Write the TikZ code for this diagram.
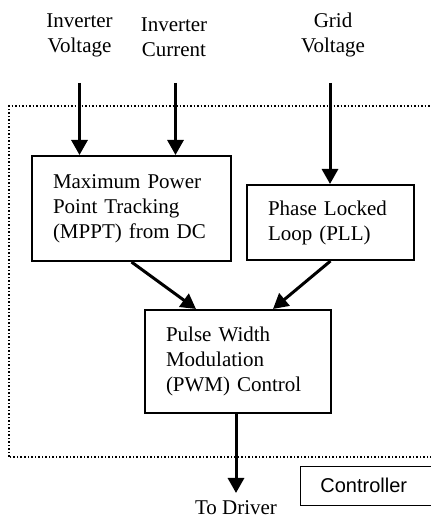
\documentclass[tikz,border=0pt]{standalone}
\usepackage{fontspec}
\setmainfont{Liberation Serif}
\newfontfamily\ctrlfont{Liberation Sans}
\usetikzlibrary{arrows.meta,positioning,calc}

\begin{document}
\begin{tikzpicture}[
    x=1pt, y=1pt,
    font=\fontsize{21}{25}\selectfont,
    block/.style={rectangle, draw, line width=2pt, inner xsep=21pt, inner ysep=0pt, align=left},
    lbl/.style={align=center, inner sep=2pt},
    arrow/.style={-{Triangle[length=15pt, width=16pt]}, line width=3pt},
    region/.style={draw, dotted, line width=1.5pt},
  ]
    \useasboundingbox (0,0) rectangle (430,518);

    % Controller region
    \draw[region] (9,61) rectangle (445,412);
    \node[draw, line width=0.8pt, anchor=west, align=left, text width=110pt, inner xsep=20pt,
          minimum height=39pt, font=\ctrlfont\fontsize{20}{24}\selectfont] (ctrl) at (300,32.5) {Controller};

    % Inputs
    \node[lbl] (vin) at (79.5,483) {Inverter\\Voltage};
    \node[lbl] (icur) at (174,481) {Inverter\\Current};
    \node[lbl] (gvol) at (333,483) {Grid\\Voltage};

    % Blocks
    \node[block, text width=157pt, minimum height=105pt] (mppt) at (131.5,309.5)
        {Maximum Power\\Point Tracking\\(MPPT) from DC};
    \node[block, text width=125pt, minimum height=75pt] (pll) at (330.5,295.5)
        {Phase Locked\\Loop (PLL)};
    \node[block, text width=144pt, minimum height=103pt] (pwm) at (238,156.5)
        {Pulse Width\\Modulation\\(PWM) Control};

    % Output
    \node[lbl, anchor=north, inner ysep=7pt] (drv) at (236,25) {To Driver};

    % Arrows
    \coordinate (vtop) at (79.5,435);
    \coordinate (ctop) at (175.5,435);
    \coordinate (gtop) at (330,435);
    \draw[arrow] (vtop) -- (vtop |- mppt.north);
    \draw[arrow] (ctop) -- (ctop |- mppt.north);
    \draw[arrow] (gtop) -- (gtop |- pll.north);
    \draw[arrow] (mppt.south) -- ([xshift=-42pt]pwm.north);
    \draw[arrow] (pll.south) -- ([xshift=35pt]pwm.north);
    \draw[arrow] (pwm.south -| drv.north) -- (drv.north);
\end{tikzpicture}
\end{document}
